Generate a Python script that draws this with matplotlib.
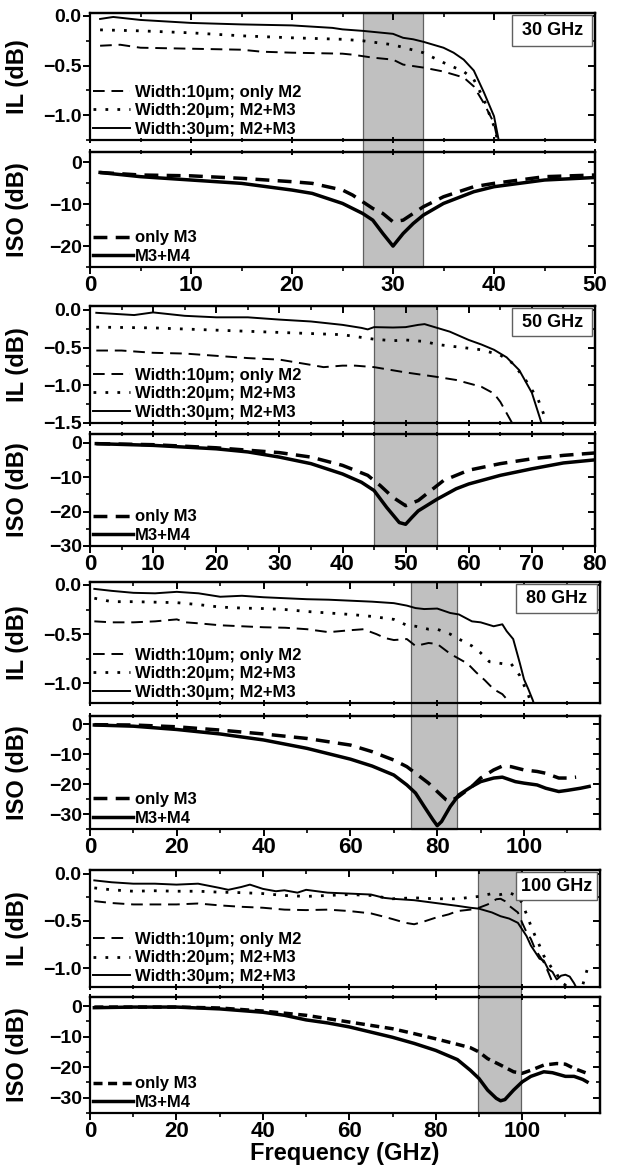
import numpy as np
import matplotlib
matplotlib.use('Agg')
import matplotlib.pyplot as plt
import matplotlib.transforms as mtransforms
from matplotlib.patches import Rectangle
from matplotlib.ticker import MultipleLocator

plt.rcParams['font.family'] = ['Liberation Sans', 'DejaVu Sans']
plt.rcParams['font.weight'] = 'bold'
plt.rcParams['axes.linewidth'] = 1.6
plt.rcParams['xtick.major.width'] = 1.4
plt.rcParams['ytick.major.width'] = 1.4
plt.rcParams['xtick.minor.width'] = 1.2
plt.rcParams['ytick.minor.width'] = 1.2
plt.rcParams['xtick.major.size'] = 5
plt.rcParams['ytick.major.size'] = 5
plt.rcParams['xtick.minor.size'] = 3
plt.rcParams['ytick.minor.size'] = 3

# ---------------- 30 GHz ----------------
il30_w10_x = [1, 3, 5, 10, 15, 17, 20, 25, 26, 28, 30, 31, 33, 35, 37, 38, 39, 40, 40.4]
il30_w10_y = [-0.30, -0.29, -0.32, -0.33, -0.34, -0.36, -0.37, -0.38, -0.39, -0.42, -0.44, -0.49, -0.52, -0.56, -0.62, -0.71, -0.88, -1.08, -1.27]
il30_w20_x = [1, 5, 10, 15, 20, 25, 27, 30, 33, 35, 37, 38, 39, 39.5, 40, 40.4]
il30_w20_y = [-0.14, -0.15, -0.17, -0.20, -0.22, -0.235, -0.25, -0.29, -0.37, -0.47, -0.56, -0.64, -0.84, -0.98, -1.11, -1.27]
il30_w30_x = [1, 2.3, 5, 10, 15, 20, 24, 25, 27, 30, 31, 32, 33, 35, 36, 37, 38, 39, 40, 40.5]
il30_w30_y = [-0.03, -0.01, -0.04, -0.07, -0.085, -0.095, -0.12, -0.135, -0.15, -0.18, -0.22, -0.235, -0.26, -0.32, -0.37, -0.44, -0.55, -0.77, -1.01, -1.27]
iso30_m3_x = [1, 5, 10, 15, 20, 22, 25, 26, 27, 28, 29, 30, 31, 32, 33, 35, 38, 40, 45, 50]
iso30_m3_y = [-2.4, -3.0, -3.2, -3.8, -4.6, -5.0, -6.6, -7.8, -9.4, -11.0, -12.2, -14.2, -13.8, -12.2, -10.6, -8.2, -5.8, -5.0, -3.4, -3.0]
iso30_m34_x = [1, 5, 10, 15, 20, 22, 25, 27, 28, 29, 30, 31, 32, 33, 35, 38, 40, 45, 50]
iso30_m34_y = [-2.4, -3.4, -4.2, -5.0, -6.6, -7.4, -9.8, -12.2, -13.8, -17.0, -20.0, -17.0, -14.6, -12.6, -9.8, -7.0, -5.8, -4.2, -3.6]

# ---------------- 50 GHz ----------------
il50_w10_x = [1, 5, 10, 15, 20, 25, 30, 35, 37, 40, 42, 45, 50, 55, 58, 62, 64, 65, 67]
il50_w10_y = [-0.54, -0.54, -0.57, -0.58, -0.61, -0.64, -0.66, -0.73, -0.76, -0.74, -0.74, -0.76, -0.83, -0.89, -0.93, -1.02, -1.11, -1.22, -1.52]
il50_w20_x = [1, 10, 20, 30, 40, 45, 48, 50, 53, 55, 58, 62, 65, 67, 69, 71, 72.5]
il50_w20_y = [-0.23, -0.24, -0.27, -0.30, -0.33, -0.39, -0.41, -0.40, -0.42, -0.46, -0.49, -0.53, -0.60, -0.71, -0.93, -1.19, -1.52]
il50_w30_x = [1, 5, 7, 10, 15, 20, 25, 30, 35, 40, 43, 44, 45, 48, 50, 52, 53, 55, 57, 60, 62, 64, 66, 68, 70, 71.6]
il50_w30_y = [-0.04, -0.06, -0.07, -0.035, -0.08, -0.10, -0.10, -0.13, -0.155, -0.20, -0.24, -0.26, -0.23, -0.235, -0.23, -0.20, -0.19, -0.24, -0.29, -0.40, -0.46, -0.53, -0.63, -0.80, -1.10, -1.52]
iso50_m3_x = [1, 10, 20, 30, 35, 40, 44, 46, 48, 50, 52, 54, 56, 60, 65, 70, 75, 80]
iso50_m3_y = [-0.3, -0.6, -1.5, -2.9, -4.2, -6.6, -9.5, -12.5, -15.9, -18.3, -16.8, -13.9, -11.0, -8.0, -6.1, -4.7, -3.7, -3.0]
iso50_m34_x = [1, 10, 20, 25, 30, 35, 40, 43, 45, 47, 49, 50, 51, 52, 55, 58, 60, 65, 70, 75, 80]
iso50_m34_y = [-0.3, -0.8, -1.8, -2.7, -4.2, -6.1, -9.1, -11.5, -13.9, -18.8, -23.2, -23.7, -21.7, -19.8, -16.4, -13.4, -12.0, -9.5, -7.6, -5.9, -5.0]

# ---------------- 80 GHz ----------------
il80_w10_x = [1, 5, 10, 15, 20, 22, 25, 30, 35, 40, 45, 50, 55, 60, 63, 66, 68, 70, 73, 75, 78, 80, 83, 85, 87, 89, 91, 93, 95, 96, 97]
il80_w10_y = [-0.37, -0.38, -0.38, -0.37, -0.35, -0.38, -0.39, -0.41, -0.42, -0.43, -0.435, -0.45, -0.48, -0.46, -0.45, -0.50, -0.54, -0.56, -0.55, -0.62, -0.59, -0.60, -0.70, -0.75, -0.80, -0.89, -0.97, -1.06, -1.11, -1.16, -1.25]
il80_w20_x = [1, 5, 10, 15, 20, 25, 30, 35, 40, 45, 50, 55, 60, 65, 70, 73, 75, 78, 80, 83, 85, 88, 90, 92, 95, 97, 99, 100, 101, 102]
il80_w20_y = [-0.135, -0.17, -0.17, -0.175, -0.18, -0.20, -0.225, -0.235, -0.24, -0.25, -0.27, -0.285, -0.30, -0.32, -0.35, -0.41, -0.42, -0.45, -0.45, -0.50, -0.55, -0.62, -0.69, -0.78, -0.80, -0.80, -0.92, -1.02, -1.12, -1.25]
il80_w30_x = [1, 5, 10, 15, 20, 25, 30, 35, 40, 45, 50, 55, 60, 65, 70, 73, 75, 77, 80, 83, 85, 88, 90, 93, 95, 96, 97.5, 99, 100, 101, 102, 102.6]
il80_w30_y = [-0.04, -0.06, -0.08, -0.085, -0.07, -0.085, -0.12, -0.11, -0.125, -0.135, -0.145, -0.15, -0.16, -0.17, -0.185, -0.21, -0.235, -0.245, -0.24, -0.285, -0.30, -0.37, -0.38, -0.42, -0.40, -0.47, -0.55, -0.79, -0.96, -1.06, -1.17, -1.25]
iso80_m3_x = [1, 10, 20, 30, 40, 50, 55, 60, 65, 68, 70, 73, 74, 76, 78, 80, 82, 83, 85, 88, 90, 93, 95, 97, 100, 103, 105, 108, 110, 112]
iso80_m3_y = [-0.2, -0.3, -0.9, -2.0, -3.3, -4.8, -5.9, -7.0, -9.2, -10.9, -12.0, -14.2, -15.3, -17.5, -19.7, -22.5, -25.2, -25.8, -24.1, -20.8, -18.0, -15.3, -14.0, -14.2, -15.3, -15.8, -16.4, -18.0, -18.0, -17.7]
iso80_m34_x = [1, 10, 20, 30, 40, 50, 60, 65, 70, 73, 75, 77, 79, 80, 81, 83, 85, 88, 90, 93, 95, 98, 100, 103, 105, 108, 110, 113, 115]
iso80_m34_y = [-0.3, -0.7, -1.8, -3.3, -5.3, -8.1, -11.7, -14.0, -17.0, -20.3, -23.0, -27.5, -31.9, -33.9, -32.5, -27.5, -23.6, -20.8, -19.2, -18.0, -17.7, -19.2, -19.7, -20.3, -21.4, -22.5, -22.1, -21.4, -20.8]

# ---------------- 100 GHz ----------------
il100_w10_x = [1, 5, 10, 15, 20, 25, 30, 35, 40, 45, 50, 55, 60, 65, 68, 70, 73, 75, 77, 80, 83, 85, 88, 90, 92, 93, 94, 95, 96, 97, 99, 100, 101, 102, 103, 104, 105, 106, 107, 108]
il100_w10_y = [-0.29, -0.31, -0.325, -0.325, -0.325, -0.315, -0.335, -0.35, -0.36, -0.38, -0.385, -0.38, -0.395, -0.42, -0.455, -0.48, -0.52, -0.535, -0.51, -0.465, -0.43, -0.395, -0.38, -0.36, -0.325, -0.30, -0.27, -0.265, -0.29, -0.34, -0.41, -0.52, -0.62, -0.69, -0.80, -0.87, -0.94, -1.04, -1.15, -1.25]
il100_w20_x = [1, 5, 10, 15, 20, 25, 30, 35, 40, 45, 50, 55, 60, 65, 70, 75, 80, 85, 90, 93, 95, 97, 99, 100, 101, 102, 103, 104, 105, 106, 107, 108, 109, 110, 111, 113, 114, 115]
il100_w20_y = [-0.15, -0.17, -0.185, -0.18, -0.185, -0.185, -0.195, -0.20, -0.21, -0.23, -0.24, -0.23, -0.22, -0.23, -0.265, -0.255, -0.265, -0.265, -0.24, -0.21, -0.22, -0.20, -0.24, -0.31, -0.43, -0.55, -0.66, -0.76, -0.87, -0.94, -1.01, -1.06, -1.15, -1.18, -1.30, -1.30, -1.18, -1.02]
il100_w30_x = [1, 5, 10, 15, 20, 25, 30, 32, 35, 37, 40, 43, 45, 48, 50, 55, 60, 65, 68, 70, 75, 80, 85, 88, 90, 93, 95, 97, 99, 100, 101, 102, 103, 104, 105, 106, 107, 108, 109, 110, 111, 112, 113]
il100_w30_y = [-0.07, -0.09, -0.105, -0.105, -0.115, -0.105, -0.15, -0.17, -0.14, -0.115, -0.16, -0.185, -0.175, -0.20, -0.17, -0.20, -0.21, -0.22, -0.255, -0.265, -0.28, -0.31, -0.34, -0.36, -0.37, -0.41, -0.45, -0.475, -0.52, -0.59, -0.66, -0.76, -0.83, -0.90, -0.92, -1.01, -1.04, -1.12, -1.08, -1.07, -1.09, -1.16, -1.25]
iso100_m3_x = [1, 10, 20, 30, 40, 50, 60, 65, 70, 75, 80, 85, 88, 90, 92, 95, 98, 100, 102, 105, 108, 110, 112, 115]
iso100_m3_y = [-0.3, -0.3, -0.3, -0.6, -1.6, -3.0, -5.2, -6.3, -7.4, -9.0, -10.7, -12.5, -13.6, -15.0, -17.2, -19.3, -21.5, -22.0, -21.0, -19.3, -18.8, -19.0, -20.4, -22.0]
iso100_m34_x = [1, 10, 20, 30, 40, 45, 50, 55, 60, 65, 70, 75, 80, 85, 88, 90, 92, 94, 95, 96, 98, 100, 102, 105, 107, 110, 112, 114, 115]
iso100_m34_y = [-0.5, -0.3, -0.3, -0.9, -2.0, -3.0, -4.5, -5.5, -6.8, -8.5, -10.2, -12.2, -14.5, -17.5, -21.0, -23.7, -27.5, -30.2, -31.0, -30.6, -27.5, -24.8, -23.0, -21.5, -21.8, -23.0, -23.0, -24.0, -24.8]

il_labels = ['Width:10\u00b5m; only M2', 'Width:20\u00b5m; M2+M3', 'Width:30\u00b5m; M2+M3']
iso_labels = ['only M3', 'M3+M4']

panels = [
    dict(tag='30 GHz', xlim=(0, 50), xmaj=10, xmin=5, band=(27, 33),
         il_ylim=(-1.25, 0.03), iso_ylim=(-25, 2.5),
         il=[(il30_w10_x, il30_w10_y), (il30_w20_x, il30_w20_y), (il30_w30_x, il30_w30_y)],
         iso=[(iso30_m3_x, iso30_m3_y), (iso30_m34_x, iso30_m34_y)],
         il_box=(13, 140), iso_box=(152, 267), right=595, iso_dash=(4, 2.4)),
    dict(tag='50 GHz', xlim=(0, 80), xmaj=10, xmin=5, band=(45, 55),
         il_ylim=(-1.5, 0.05), iso_ylim=(-30, 2.5),
         il=[(il50_w10_x, il50_w10_y), (il50_w20_x, il50_w20_y), (il50_w30_x, il50_w30_y)],
         iso=[(iso50_m3_x, iso50_m3_y), (iso50_m34_x, iso50_m34_y)],
         il_box=(306, 423), iso_box=(434, 546), right=595, iso_dash=(4, 2.4)),
    dict(tag='80 GHz', xlim=(0, 117.5), xmaj=20, xmin=10, band=(74, 84.5),
         il_ylim=(-1.2, 0.03), iso_ylim=(-35, 2.7),
         il=[(il80_w10_x, il80_w10_y), (il80_w20_x, il80_w20_y), (il80_w30_x, il80_w30_y)],
         iso=[(iso80_m3_x, iso80_m3_y), (iso80_m34_x, iso80_m34_y)],
         il_box=(582, 703), iso_box=(716, 829), right=600, iso_dash=(4, 2.4)),
    dict(tag='100 GHz', xlim=(0, 118), xmaj=20, xmin=10, band=(89.8, 99.8),
         il_ylim=(-1.2, 0.04), iso_ylim=(-35, 3),
         il=[(il100_w10_x, il100_w10_y), (il100_w20_x, il100_w20_y), (il100_w30_x, il100_w30_y)],
         iso=[(iso100_m3_x, iso100_m3_y), (iso100_m34_x, iso100_m34_y)],
         il_box=(870, 987), iso_box=(997, 1113), right=600, iso_dash=(2.6, 1.6)),
]

W, H = 618, 1165
fig = plt.figure(figsize=(W / 100, H / 100), dpi=100)

il_styles = [dict(ls=(0, (6, 3.5)), lw=1.4), dict(ls=(0, (1, 3.3)), lw=2.0), dict(ls='-', lw=1.4)]


def frame(ax, xmaj, xmin, ymaj, ymin, bottom_dir, top_dir, labels):
    ax.set_facecolor('none')
    ax.xaxis.set_major_locator(MultipleLocator(xmaj))
    ax.xaxis.set_minor_locator(MultipleLocator(xmin))
    ax.yaxis.set_major_locator(MultipleLocator(ymaj))
    ax.yaxis.set_minor_locator(MultipleLocator(ymin))
    ax.tick_params(axis='x', which='both', top=False, direction=bottom_dir,
                   labelbottom=labels, labelsize=16, pad=1)
    ax.tick_params(axis='y', which='both', right=False, direction='out', labelsize=14, pad=1)
    top = ax.secondary_xaxis('top')
    top.xaxis.set_major_locator(MultipleLocator(xmaj))
    top.xaxis.set_minor_locator(MultipleLocator(xmin))
    top.tick_params(which='both', direction=top_dir, labeltop=False)
    rgt = ax.secondary_yaxis('right')
    rgt.yaxis.set_major_locator(MultipleLocator(ymaj))
    rgt.yaxis.set_minor_locator(MultipleLocator(ymin))
    rgt.tick_params(which='both', direction='in', labelright=False)


for i, p in enumerate(panels):
    left = 90
    width = p['right'] - left
    t1, b1 = p['il_box']
    t2, b2 = p['iso_box']
    ax1 = fig.add_axes([left / W, 1 - b1 / H, width / W, (b1 - t1) / H])
    ax2 = fig.add_axes([left / W, 1 - b2 / H, width / W, (b2 - t2) / H])

    for (x, y), st, lab in zip(p['il'], il_styles, il_labels):
        ax1.plot(x, y, color='black', label=lab, **st)
    ax1.set_xlim(*p['xlim'])
    ax1.set_ylim(*p['il_ylim'])
    frame(ax1, p['xmaj'], p['xmin'], 0.5, 0.25, 'inout', 'in', False)
    ax1.set_ylabel('IL (dB)', fontsize=17, fontweight='bold')
    ax1.yaxis.set_label_coords(-0.12, 0.5)
    ax1.legend(loc='lower left', frameon=False, fontsize=12, handlelength=2.2,
               handletextpad=0.3, labelspacing=0.2, borderaxespad=0.1, borderpad=0.1)
    ax1.add_patch(Rectangle((0.835, 0.74), 0.16, 0.245, transform=ax1.transAxes,
                            facecolor='white', edgecolor='#606060', lw=1, zorder=5))
    ax1.text(0.915, 0.862, p['tag'], transform=ax1.transAxes, ha='center', va='center',
             fontsize=13, fontweight='bold', zorder=6)

    (x3, y3), (x4, y4) = p['iso']
    ax2.plot(x3, y3, color='black', lw=2.5, ls=(0, p['iso_dash']), label=iso_labels[0])
    ax2.plot(x4, y4, color='black', lw=2.5, ls='-', label=iso_labels[1])
    ax2.set_xlim(*p['xlim'])
    ax2.set_ylim(*p['iso_ylim'])
    frame(ax2, p['xmaj'], p['xmin'], 10, 5, 'out', 'inout', True)
    ax2.set_ylabel('ISO (dB)', fontsize=17, fontweight='bold')
    ax2.yaxis.set_label_coords(-0.12, 0.5)
    ax2.legend(loc='lower left', frameon=False, fontsize=12, handlelength=2.4,
               handletextpad=0.1, labelspacing=0.2, borderaxespad=0.1, borderpad=0.1)

    # shaded band spanning both panels
    trans = mtransforms.blended_transform_factory(ax2.transData, fig.transFigure)
    b0, b1f = p['band']
    fig.add_artist(Rectangle((b0, 1 - b2 / H), b1f - b0, (b2 - t1) / H, transform=trans,
                             facecolor='#c0c0c0', edgecolor='#606060', lw=0.9, zorder=-1))

    if i == len(panels) - 1:
        ax2.set_xlabel('Frequency (GHz)', fontsize=17, fontweight='bold', labelpad=0)

fig.savefig('out.png', dpi=100)
